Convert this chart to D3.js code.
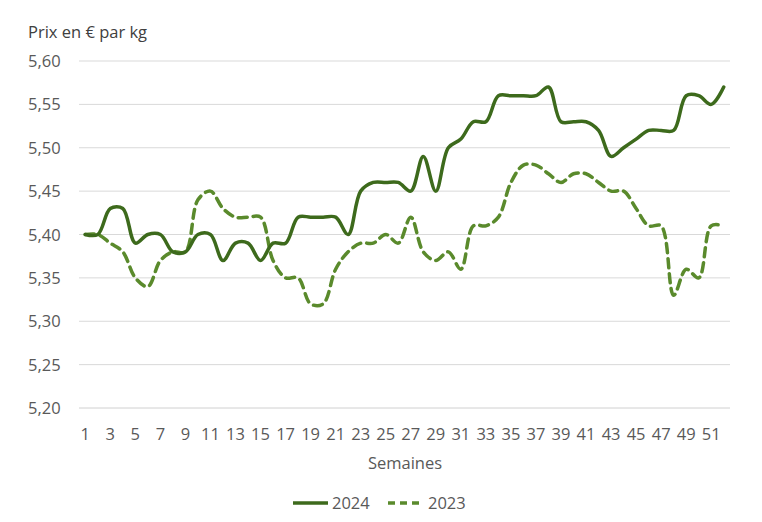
<!DOCTYPE html>
<html><head><meta charset="utf-8">
<script src="https://cdn.jsdelivr.net/npm/d3@7"></script>
<style>body{margin:0;background:#fff;} text{font-family:"Open Sans","Noto Sans",sans-serif;}</style>
</head><body>
<svg id="chart" width="762" height="522"></svg>
<script>
const weeks = d3.range(1, 53);
const series2024 = [5.40,5.40,5.43,5.43,5.39,5.40,5.40,5.38,5.38,5.40,5.40,5.37,5.39,5.39,5.37,5.39,5.39,5.42,5.42,5.42,5.42,5.40,5.45,5.46,5.46,5.46,5.45,5.49,5.45,5.50,5.51,5.53,5.53,5.56,5.56,5.56,5.56,5.57,5.53,5.53,5.53,5.52,5.49,5.50,5.51,5.52,5.52,5.52,5.56,5.56,5.55,5.57];
const series2023 = [5.40,5.40,5.39,5.38,5.35,5.34,5.37,5.38,5.38,5.44,5.45,5.43,5.42,5.42,5.42,5.37,5.35,5.35,5.32,5.32,5.36,5.38,5.39,5.39,5.40,5.39,5.42,5.38,5.37,5.38,5.36,5.41,5.41,5.42,5.46,5.48,5.48,5.47,5.46,5.47,5.47,5.46,5.45,5.45,5.43,5.41,5.41,5.33,5.36,5.35,5.41,5.41];
const yTicks = [5.20,5.25,5.30,5.35,5.40,5.45,5.50,5.55,5.60];
const seriesNames = ["2024","2023"];

const svg = d3.select("#chart");
const x = d3.scaleBand().domain(weeks).range([79, 730]);
const y = d3.scaleLinear().domain([5.20, 5.60]).range([408, 61]);
const fmt = v => d3.format(".2f")(v).replace(".", ",");
const c2024 = "#3d6a1c", c2023 = "#5a8a2c";
const fs = 16.5;

// gridlines
svg.append("g").selectAll("line").data(yTicks).join("line")
  .attr("x1", 79).attr("x2", 730)
  .attr("y1", d => y(d)).attr("y2", d => y(d))
  .attr("stroke", d => d === 5.20 ? "#d0d0d0" : "#d9d9d9").attr("stroke-width", 1);

// y labels
svg.append("g").selectAll("text").data(yTicks).join("text")
  .attr("x", 28).attr("y", d => y(d) + 6)
  .attr("font-size", fs).attr("fill", "#595959")
  .text(fmt);

// x labels
svg.append("g").selectAll("text").data(weeks.filter(w => w % 2 === 1)).join("text")
  .attr("x", d => x(d) + x.bandwidth() / 2).attr("y", 440)
  .attr("text-anchor", "middle").attr("font-size", fs).attr("fill", "#595959")
  .text(d => d);

svg.append("text").attr("x", 28).attr("y", 38).attr("font-size", fs).attr("fill", "#404040").text("Prix en € par kg");
svg.append("text").attr("x", 405).attr("y", 469).attr("text-anchor", "middle").attr("font-size", fs).attr("fill", "#595959").text("Semaines");

const line = d3.line().x((d, i) => x(weeks[i]) + x.bandwidth() / 2).y(d => y(d)).curve(d3.curveCatmullRom.alpha(0.5));

svg.append("path").datum(series2023).attr("d", line).attr("fill", "none")
  .attr("stroke", c2023).attr("stroke-width", 3.5).attr("stroke-dasharray", "9,6").attr("stroke-linecap", "round");
svg.append("path").datum(series2024).attr("d", line).attr("fill", "none")
  .attr("stroke", c2024).attr("stroke-width", 3.5).attr("stroke-linecap", "round");

// legend
const lg = svg.append("g");
lg.append("line").attr("x1", 293).attr("x2", 328).attr("y1", 503).attr("y2", 503).attr("stroke", c2024).attr("stroke-width", 3.5);
lg.append("text").attr("x", 332).attr("y", 509).attr("font-size", fs).attr("fill", "#595959").text(seriesNames[0]);
lg.append("line").attr("x1", 388).attr("x2", 421).attr("y1", 503).attr("y2", 503).attr("stroke", c2023).attr("stroke-width", 3.5).attr("stroke-dasharray", "7,5");
lg.append("text").attr("x", 428).attr("y", 509).attr("font-size", fs).attr("fill", "#595959").text(seriesNames[1]);
</script>
</body></html>
